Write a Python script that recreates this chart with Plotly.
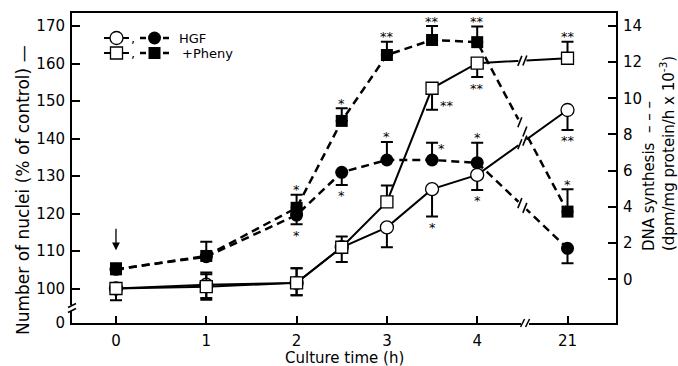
import plotly.graph_objects as go

# ---------------- data ----------------
times = [0, 1, 2, 2.5, 3, 3.5, 4, 21]
x_tick_hours = [0, 1, 2, 3, 4, 21]
left_ticks = [100, 110, 120, 130, 140, 150, 160, 170]
right_ticks = [0, 2, 4, 6, 8, 10, 12, 14]

hgf_nuclei = [100, 101, 101.5, 111, 116.3, 126.5, 130.3, 147.6]
hgf_nuclei_up = [0, 3.3, 3.9, 0, 0, 0, 0, 0]
hgf_nuclei_dn = [3.1, 3.5, 3.3, 0, 5.3, 7.3, 4.0, 5.3]

pheny_nuclei = [100, 100.5, 101.5, 111, 123.1, 153.4, 160.1, 161.4]
pheny_nuclei_up = [0, 3.3, 3.9, 2.9, 4.4, 0, 0, 4.4]
pheny_nuclei_dn = [0, 3.5, 3.3, 3.9, 0, 5.7, 3.7, 0]

hgf_dna = [0.55, 1.25, 3.55, 5.91, 6.59, 6.59, 6.44, 1.71]
hgf_dna_up = [0.33, 0, 0, 0, 1.0, 0.95, 1.1, 0]
hgf_dna_dn = [0, 0, 0.51, 0.7, 0, 0, 0, 0.83]

pheny_dna = [0.55, 1.29, 3.95, 8.75, 12.39, 13.22, 13.1, 3.74]
pheny_dna_up = [0, 0.79, 0.72, 0.7, 0.73, 0.77, 0.86, 1.24]
pheny_dna_dn = [0, 0, 0, 0, 0, 0, 0, 0]

# significance marks: (series, index, text, placement)
stars = [
    ("pheny_dna", 2, "*", "above"),
    ("hgf_dna", 2, "*", "below"),
    ("pheny_dna", 3, "*", "above"),
    ("hgf_dna", 3, "*", "below"),
    ("pheny_dna", 4, "**", "above"),
    ("hgf_dna", 4, "*", "above"),
    ("pheny_dna", 5, "**", "above"),
    ("hgf_dna", 5, "*", "right_top"),
    ("pheny_nuclei", 5, "**", "right_bottom"),
    ("hgf_nuclei", 5, "*", "below"),
    ("pheny_dna", 6, "**", "above"),
    ("hgf_dna", 6, "*", "above"),
    ("pheny_nuclei", 6, "**", "below"),
    ("hgf_nuclei", 6, "*", "below"),
    ("pheny_nuclei", 7, "**", "above"),
    ("pheny_dna", 7, "*", "above"),
    ("hgf_nuclei", 7, "**", "below"),
]

# ---------------- scales ----------------
BREAK_AT = 4.0
AFTER_BREAK_SPAN = 17.0  # 4 h .. 21 h compressed to one axis unit


def xpos(t):
    return t if t <= BREAK_AT else BREAK_AT + (t - BREAK_AT) / AFTER_BREAK_SPAN


X_RANGE = [-0.487, 5.537]
Y_RANGE = [90.8, 173.47]
Y2_RANGE = [-2.414, 14.71]
PLOT_W, PLOT_H = 544, 310
ML, MR, MT, MB = 72, 62, 13, 43

px_x = PLOT_W / (X_RANGE[1] - X_RANGE[0])
px_y = PLOT_H / (Y_RANGE[1] - Y_RANGE[0])
px_y2 = PLOT_H / (Y2_RANGE[1] - Y2_RANGE[0])

xs = [xpos(t) for t in times]

FONT = "DejaVu Sans, Liberation Sans, sans-serif"
fig = go.Figure()

series = {
    "hgf_nuclei": (hgf_nuclei, hgf_nuclei_up, hgf_nuclei_dn, "y"),
    "pheny_nuclei": (pheny_nuclei, pheny_nuclei_up, pheny_nuclei_dn, "y"),
    "hgf_dna": (hgf_dna, hgf_dna_up, hgf_dna_dn, "y2"),
    "pheny_dna": (pheny_dna, pheny_dna_up, pheny_dna_dn, "y2"),
}
styles = {
    "hgf_nuclei": dict(line=dict(color="black", width=2),
                       marker=dict(symbol="circle", size=13, color="white",
                                   line=dict(color="black", width=1.3))),
    "pheny_nuclei": dict(line=dict(color="black", width=2),
                         marker=dict(symbol="square", size=12, color="white",
                                     line=dict(color="black", width=1.3))),
    "hgf_dna": dict(line=dict(color="black", width=2.5, dash="8px,5px"),
                    marker=dict(symbol="circle", size=13, color="black")),
    "pheny_dna": dict(line=dict(color="black", width=2.5, dash="8px,5px"),
                      marker=dict(symbol="square", size=12, color="black")),
}

for key in ["hgf_dna", "pheny_dna", "hgf_nuclei", "pheny_nuclei"]:
    vals, up, dn, yref = series[key]
    fig.add_trace(go.Scatter(
        x=xs, y=vals, mode="lines+markers", yaxis=yref,
        error_y=dict(type="data", symmetric=False, array=up, arrayminus=dn,
                     color="black", thickness=2, width=6),
        **styles[key]))

shapes = []
annotations = []

# line breaks on each series between 4 h and 21 h
for key, (vals, up, dn, yref) in series.items():
    pxu = px_y if yref == "y" else px_y2
    x0, x1 = xpos(times[6]), xpos(times[7])
    xm = (x0 + x1) / 2
    ym = (vals[6] + vals[7]) / 2
    slope = (vals[7] - vals[6]) / (x1 - x0)  # data units
    gx = 2.5 / px_x
    shapes.append(dict(type="line", xref="x", yref=yref,
                       x0=xm - gx * 1.6, x1=xm + gx * 1.6,
                       y0=ym - slope * gx * 1.6, y1=ym + slope * gx * 1.6,
                       line=dict(color="white", width=5)))
    for s in (-1, 1):
        cx = xm + s * gx
        cy = ym + slope * s * gx
        shapes.append(dict(type="line", xref="x", yref=yref,
                           x0=cx - 2 / px_x, x1=cx + 2 / px_x,
                           y0=cy - 5 / pxu, y1=cy + 5 / pxu,
                           line=dict(color="black", width=1.6)))

# x axis break
xb = 4.53
shapes.append(dict(type="line", xref="x", yref="paper", x0=xb - 4 / px_x, x1=xb + 4 / px_x,
                   y0=0, y1=0, line=dict(color="white", width=5)))
for s in (-1, 1):
    cx = xb + s * 2.5 / px_x
    shapes.append(dict(type="line", xref="x", yref="paper",
                       x0=cx - 2 / px_x, x1=cx + 2 / px_x, y0=-4 / PLOT_H, y1=4 / PLOT_H,
                       line=dict(color="black", width=1.6)))

# left axis break
yb = 94.8
shapes.append(dict(type="line", xref="paper", yref="y", x0=0, x1=0,
                   y0=yb - 3 / px_y, y1=yb + 3 / px_y, line=dict(color="white", width=6)))
for s in (-1, 1):
    cy = yb + s * 2.5 / px_y
    shapes.append(dict(type="line", xref="paper", yref="y",
                       x0=-4 / PLOT_W, x1=4 / PLOT_W, y0=cy - 2 / px_y, y1=cy + 2 / px_y,
                       line=dict(color="black", width=1.6)))

# significance stars
for key, i, txt, place in stars:
    vals, up, dn, yref = series[key]
    if place == "above":
        y, xs_, ys_ = vals[i] + up[i], 0, 5
    elif place == "below":
        y, xs_, ys_ = vals[i] - dn[i], 0, -11
    elif place == "right_top":
        y, xs_, ys_ = vals[i] + up[i], 9, -6
    else:  # right_bottom
        y, xs_, ys_ = vals[i] - dn[i], 15, 4
    annotations.append(dict(x=xpos(times[i]), y=y, xref="x", yref=yref, text=txt,
                            showarrow=False, xshift=xs_, yshift=ys_,
                            xanchor="center", yanchor="middle",
                            font=dict(family=FONT, size=13, color="black")))

# arrow at time 0
annotations.append(dict(x=xpos(times[0]), y=hgf_dna[0] + hgf_dna_up[0], xref="x", yref="y2",
                        text="", showarrow=True, ax=0, ay=-23, yshift=13,
                        arrowhead=2, arrowsize=1.2, arrowwidth=1.3, arrowcolor="black"))


def lx(px):
    return (px - ML) / PLOT_W


def ly(py):
    return (323 - py) / PLOT_H


# axis titles
annotations.append(dict(xref="paper", yref="paper", x=lx(23), y=ly(190),
                        xanchor="center", yanchor="middle",
                        text="Number of nuclei (% of control) —", textangle=-90, showarrow=False,
                        font=dict(family=FONT, size=17, color="black")))
annotations.append(dict(xref="paper", yref="paper", x=lx(659), y=ly(154),
                        xanchor="center", yanchor="middle", align="left",
                        text="DNA synthesis  – – –<br>(dpm/mg protein/h x 10<sup>-3</sup>)",
                        textangle=-90, showarrow=False,
                        font=dict(family=FONT, size=15, color="black")))
annotations.append(dict(xref="paper", yref="paper", x=lx(344), y=ly(358),
                        xanchor="center", yanchor="middle",
                        text="Culture time (h)", showarrow=False,
                        font=dict(family=FONT, size=15, color="black")))

# legend (hidden overlay axis spanning the plot area)
for row_y, sym, label in [(38, "circle", "HGF"), (53, "square", "+Pheny")]:
    msize = 13 if sym == "circle" else 12
    fig.add_trace(go.Scatter(x=[lx(104), lx(129)], y=[ly(row_y)] * 2, mode="lines",
                             xaxis="x3", yaxis="y3", line=dict(color="black", width=2),
                             hoverinfo="skip"))
    fig.add_trace(go.Scatter(x=[lx(116.5)], y=[ly(row_y)], mode="markers", xaxis="x3", yaxis="y3",
                             marker=dict(symbol=sym, size=msize, color="white",
                                         line=dict(color="black", width=1.3)), hoverinfo="skip"))
    fig.add_trace(go.Scatter(x=[lx(140), lx(146), None, lx(163), lx(169)], y=[ly(row_y)] * 5,
                             mode="lines", xaxis="x3", yaxis="y3",
                             line=dict(color="black", width=2.5), hoverinfo="skip"))
    fig.add_trace(go.Scatter(x=[lx(154.5)], y=[ly(row_y)], mode="markers", xaxis="x3", yaxis="y3",
                             marker=dict(symbol=sym, size=msize, color="black"), hoverinfo="skip"))
    annotations.append(dict(xref="paper", yref="paper", x=lx(133), y=ly(row_y), text=",",
                            showarrow=False, xanchor="center", yanchor="middle",
                            font=dict(family=FONT, size=13, color="black")))
    annotations.append(dict(xref="paper", yref="paper", x=lx(177 if sym == "circle" else 180),
                            y=ly(row_y), text=label, showarrow=False,
                            xanchor="left", yanchor="middle",
                            font=dict(family=FONT, size=13, color="black")))

axis_common = dict(showgrid=False, zeroline=False, showline=True, linecolor="black",
                   linewidth=2, ticks="inside", tickcolor="black", tickwidth=2,
                   tickfont=dict(family=FONT, size=15, color="black"))

fig.update_layout(
    width=678, height=366,
    margin=dict(l=ML, r=MR, t=MT, b=MB, pad=0),
    plot_bgcolor="white", paper_bgcolor="white",
    showlegend=False,
    font=dict(family=FONT, size=15, color="black"),
    xaxis=dict(range=X_RANGE, tickvals=[xpos(t) for t in x_tick_hours],
               ticktext=[str(t) for t in x_tick_hours], ticklen=7, mirror=True,
               ticklabelstandoff=3, **axis_common),
    yaxis=dict(range=Y_RANGE, tickvals=[Y_RANGE[0] + 0.02] + left_ticks,
               ticktext=["0"] + [str(v) for v in left_ticks], ticklen=8,
               ticklabelstandoff=2, **axis_common),
    yaxis2=dict(range=Y2_RANGE, overlaying="y", side="right", tickvals=right_ticks,
                ticktext=[str(v) for v in right_ticks], ticklen=8,
                ticklabelstandoff=2, **axis_common),
    xaxis3=dict(range=[0, 1], overlaying="x", visible=False, fixedrange=True),
    yaxis3=dict(range=[0, 1], overlaying="y", visible=False, fixedrange=True),
    shapes=shapes,
    annotations=annotations,
)

fig.write_html("out.html")
